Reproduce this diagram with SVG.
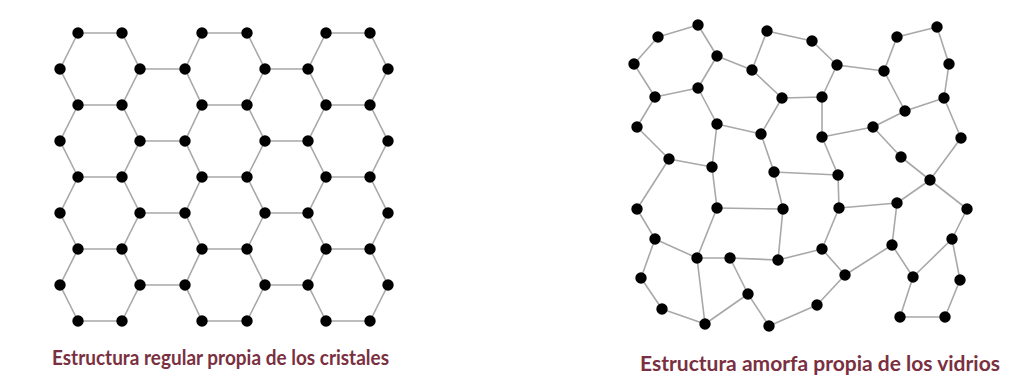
<svg xmlns="http://www.w3.org/2000/svg" width="1027" height="381" viewBox="0 0 1027 381">
<style>
.e{stroke:#a8a8a8;stroke-width:1.6;fill:none;stroke-linecap:round}
.n circle{fill:#0a0a0a}
.lbl{font-family:"Lato","Open Sans","Liberation Sans",sans-serif;font-weight:bold;font-size:21px;fill:#7a3040}
</style>
<defs><circle id="dot" r="5.7"/></defs>
<rect width="1027" height="381" fill="#ffffff"/>
<g id="connectors">
<g id="crystal-edges">
<polyline class="e" points="78,33 60,69 78,105 60,141 78,177 60,213 78,249 60,285 78,321"/>
<polyline class="e" points="122,33 140,69 122,105 140,141 122,177 140,213 122,249 140,285 122,321"/>
<polyline class="e" points="202,33 185,69 202,105 185,141 202,177 185,213 202,249 185,285 202,321"/>
<polyline class="e" points="247,33 265,69 247,105 265,141 247,177 265,213 247,249 265,285 247,321"/>
<polyline class="e" points="326,33 308,69 326,105 308,141 326,177 308,213 326,249 308,285 326,321"/>
<polyline class="e" points="370,33 388,69 370,105 388,141 370,177 388,213 370,249 388,285 370,321"/>
<path class="e" d="M78 33H122M202 33H247M326 33H370M78 105H122M202 105H247M326 105H370M78 177H122M202 177H247M326 177H370M78 249H122M202 249H247M326 249H370M78 321H122M202 321H247M326 321H370M140 69H185M265 69H308M140 141H185M265 141H308M140 213H185M265 213H308M140 285H185M265 285H308"/>
</g>
<g id="glass-edges" class="e">
<line x1="698" y1="25" x2="658" y2="37"/>
<line x1="658" y1="37" x2="634" y2="64"/>
<line x1="698" y1="25" x2="717" y2="56"/>
<line x1="634" y1="64" x2="655" y2="97"/>
<line x1="655" y1="97" x2="698" y2="88"/>
<line x1="698" y1="88" x2="717" y2="56"/>
<line x1="717" y1="56" x2="752" y2="70"/>
<line x1="752" y1="70" x2="767" y2="31"/>
<line x1="752" y1="70" x2="782" y2="98"/>
<line x1="698" y1="88" x2="717" y2="124"/>
<line x1="717" y1="124" x2="761" y2="134"/>
<line x1="761" y1="134" x2="782" y2="98"/>
<line x1="655" y1="97" x2="637" y2="127"/>
<line x1="637" y1="127" x2="669" y2="159"/>
<line x1="669" y1="159" x2="712" y2="167"/>
<line x1="717" y1="124" x2="712" y2="167"/>
<line x1="761" y1="134" x2="774" y2="172"/>
<line x1="767" y1="31" x2="812" y2="41"/>
<line x1="812" y1="41" x2="837" y2="65"/>
<line x1="837" y1="65" x2="884" y2="71"/>
<line x1="884" y1="71" x2="897" y2="37"/>
<line x1="897" y1="37" x2="937" y2="27"/>
<line x1="937" y1="27" x2="949" y2="64"/>
<line x1="949" y1="64" x2="944" y2="98"/>
<line x1="944" y1="98" x2="905" y2="111"/>
<line x1="905" y1="111" x2="884" y2="71"/>
<line x1="905" y1="111" x2="873" y2="127"/>
<line x1="873" y1="127" x2="822" y2="137"/>
<line x1="837" y1="65" x2="822" y2="97"/>
<line x1="822" y1="97" x2="782" y2="98"/>
<line x1="822" y1="97" x2="822" y2="137"/>
<line x1="822" y1="137" x2="838" y2="175"/>
<line x1="774" y1="172" x2="838" y2="175"/>
<line x1="944" y1="98" x2="961" y2="138"/>
<line x1="961" y1="138" x2="930" y2="180"/>
<line x1="873" y1="127" x2="901" y2="157"/>
<line x1="901" y1="157" x2="930" y2="180"/>
<line x1="930" y1="180" x2="897" y2="203"/>
<line x1="930" y1="180" x2="967" y2="209"/>
<line x1="669" y1="159" x2="637" y2="209"/>
<line x1="712" y1="167" x2="717" y2="208"/>
<line x1="717" y1="208" x2="783" y2="209"/>
<line x1="774" y1="172" x2="783" y2="209"/>
<line x1="783" y1="209" x2="778" y2="260"/>
<line x1="637" y1="209" x2="655" y2="239"/>
<line x1="655" y1="239" x2="697" y2="258"/>
<line x1="697" y1="258" x2="717" y2="208"/>
<line x1="697" y1="258" x2="730" y2="258"/>
<line x1="730" y1="258" x2="778" y2="260"/>
<line x1="730" y1="258" x2="748" y2="294"/>
<line x1="748" y1="294" x2="705" y2="324"/>
<line x1="705" y1="324" x2="697" y2="258"/>
<line x1="655" y1="239" x2="641" y2="278"/>
<line x1="641" y1="278" x2="662" y2="309"/>
<line x1="662" y1="309" x2="705" y2="324"/>
<line x1="748" y1="294" x2="769" y2="326"/>
<line x1="838" y1="175" x2="839" y2="208"/>
<line x1="839" y1="208" x2="897" y2="203"/>
<line x1="967" y1="209" x2="952" y2="239"/>
<line x1="839" y1="208" x2="822" y2="249"/>
<line x1="822" y1="249" x2="778" y2="260"/>
<line x1="822" y1="249" x2="845" y2="275"/>
<line x1="845" y1="275" x2="892" y2="245"/>
<line x1="892" y1="245" x2="897" y2="203"/>
<line x1="892" y1="245" x2="913" y2="277"/>
<line x1="913" y1="277" x2="952" y2="239"/>
<line x1="952" y1="239" x2="960" y2="280"/>
<line x1="960" y1="280" x2="945" y2="317"/>
<line x1="945" y1="317" x2="900" y2="317"/>
<line x1="900" y1="317" x2="913" y2="277"/>
<line x1="845" y1="275" x2="817" y2="305"/>
<line x1="817" y1="305" x2="769" y2="326"/>
</g>
</g>
<g id="crystal-nodes" class="n">
<g id="c-0-1"><use href="#dot" x="78" y="33"/></g><g id="c-0-2"><use href="#dot" x="122" y="33"/></g><g id="c-0-3"><use href="#dot" x="202" y="33"/></g><g id="c-0-4"><use href="#dot" x="247" y="33"/></g><g id="c-0-5"><use href="#dot" x="326" y="33"/></g><g id="c-0-6"><use href="#dot" x="370" y="33"/></g>
<g id="c-1-1"><use href="#dot" x="60" y="69"/></g><g id="c-1-2"><use href="#dot" x="140" y="69"/></g><g id="c-1-3"><use href="#dot" x="185" y="69"/></g><g id="c-1-4"><use href="#dot" x="265" y="69"/></g><g id="c-1-5"><use href="#dot" x="308" y="69"/></g><g id="c-1-6"><use href="#dot" x="388" y="69"/></g>
<g id="c-2-1"><use href="#dot" x="78" y="105"/></g><g id="c-2-2"><use href="#dot" x="122" y="105"/></g><g id="c-2-3"><use href="#dot" x="202" y="105"/></g><g id="c-2-4"><use href="#dot" x="247" y="105"/></g><g id="c-2-5"><use href="#dot" x="326" y="105"/></g><g id="c-2-6"><use href="#dot" x="370" y="105"/></g>
<g id="c-3-1"><use href="#dot" x="60" y="141"/></g><g id="c-3-2"><use href="#dot" x="140" y="141"/></g><g id="c-3-3"><use href="#dot" x="185" y="141"/></g><g id="c-3-4"><use href="#dot" x="265" y="141"/></g><g id="c-3-5"><use href="#dot" x="308" y="141"/></g><g id="c-3-6"><use href="#dot" x="388" y="141"/></g>
<g id="c-4-1"><use href="#dot" x="78" y="177"/></g><g id="c-4-2"><use href="#dot" x="122" y="177"/></g><g id="c-4-3"><use href="#dot" x="202" y="177"/></g><g id="c-4-4"><use href="#dot" x="247" y="177"/></g><g id="c-4-5"><use href="#dot" x="326" y="177"/></g><g id="c-4-6"><use href="#dot" x="370" y="177"/></g>
<g id="c-5-1"><use href="#dot" x="60" y="213"/></g><g id="c-5-2"><use href="#dot" x="140" y="213"/></g><g id="c-5-3"><use href="#dot" x="185" y="213"/></g><g id="c-5-4"><use href="#dot" x="265" y="213"/></g><g id="c-5-5"><use href="#dot" x="308" y="213"/></g><g id="c-5-6"><use href="#dot" x="388" y="213"/></g>
<g id="c-6-1"><use href="#dot" x="78" y="249"/></g><g id="c-6-2"><use href="#dot" x="122" y="249"/></g><g id="c-6-3"><use href="#dot" x="202" y="249"/></g><g id="c-6-4"><use href="#dot" x="247" y="249"/></g><g id="c-6-5"><use href="#dot" x="326" y="249"/></g><g id="c-6-6"><use href="#dot" x="370" y="249"/></g>
<g id="c-7-1"><use href="#dot" x="60" y="285"/></g><g id="c-7-2"><use href="#dot" x="140" y="285"/></g><g id="c-7-3"><use href="#dot" x="185" y="285"/></g><g id="c-7-4"><use href="#dot" x="265" y="285"/></g><g id="c-7-5"><use href="#dot" x="308" y="285"/></g><g id="c-7-6"><use href="#dot" x="388" y="285"/></g>
<g id="c-8-1"><use href="#dot" x="78" y="321"/></g><g id="c-8-2"><use href="#dot" x="122" y="321"/></g><g id="c-8-3"><use href="#dot" x="202" y="321"/></g><g id="c-8-4"><use href="#dot" x="247" y="321"/></g><g id="c-8-5"><use href="#dot" x="326" y="321"/></g><g id="c-8-6"><use href="#dot" x="370" y="321"/></g>
</g>
<g id="glass-nodes" class="n">
<g id="g-a"><use href="#dot" x="698" y="25"/></g><g id="g-b"><use href="#dot" x="658" y="37"/></g><g id="g-c"><use href="#dot" x="634" y="64"/></g><g id="g-d"><use href="#dot" x="717" y="56"/></g><g id="g-e"><use href="#dot" x="752" y="70"/></g><g id="g-f"><use href="#dot" x="767" y="31"/></g><g id="g-g"><use href="#dot" x="698" y="88"/></g><g id="g-h"><use href="#dot" x="655" y="97"/></g><g id="g-i"><use href="#dot" x="782" y="98"/></g><g id="g-j"><use href="#dot" x="637" y="127"/></g><g id="g-k"><use href="#dot" x="717" y="124"/></g><g id="g-l"><use href="#dot" x="761" y="134"/></g><g id="g-m"><use href="#dot" x="669" y="159"/></g><g id="g-n"><use href="#dot" x="712" y="167"/></g><g id="g-o"><use href="#dot" x="774" y="172"/></g>
<g id="g-p"><use href="#dot" x="812" y="41"/></g><g id="g-q"><use href="#dot" x="837" y="65"/></g><g id="g-r"><use href="#dot" x="884" y="71"/></g><g id="g-s"><use href="#dot" x="897" y="37"/></g><g id="g-t"><use href="#dot" x="937" y="27"/></g><g id="g-u"><use href="#dot" x="949" y="64"/></g><g id="g-v"><use href="#dot" x="944" y="98"/></g><g id="g-w"><use href="#dot" x="905" y="111"/></g><g id="g-x"><use href="#dot" x="822" y="97"/></g><g id="g-y"><use href="#dot" x="873" y="127"/></g><g id="g-z"><use href="#dot" x="822" y="137"/></g><g id="g-A"><use href="#dot" x="961" y="138"/></g><g id="g-B"><use href="#dot" x="901" y="157"/></g><g id="g-C"><use href="#dot" x="930" y="180"/></g><g id="g-D"><use href="#dot" x="838" y="175"/></g>
<g id="g-E"><use href="#dot" x="637" y="209"/></g><g id="g-F"><use href="#dot" x="717" y="208"/></g><g id="g-G"><use href="#dot" x="783" y="209"/></g><g id="g-H"><use href="#dot" x="655" y="239"/></g><g id="g-I"><use href="#dot" x="697" y="258"/></g><g id="g-J"><use href="#dot" x="730" y="258"/></g><g id="g-K"><use href="#dot" x="778" y="260"/></g><g id="g-L"><use href="#dot" x="641" y="278"/></g><g id="g-M"><use href="#dot" x="662" y="309"/></g><g id="g-N"><use href="#dot" x="705" y="324"/></g><g id="g-O"><use href="#dot" x="748" y="294"/></g><g id="g-P"><use href="#dot" x="769" y="326"/></g>
<g id="g-Q"><use href="#dot" x="839" y="208"/></g><g id="g-R"><use href="#dot" x="897" y="203"/></g><g id="g-S"><use href="#dot" x="967" y="209"/></g><g id="g-T"><use href="#dot" x="822" y="249"/></g><g id="g-U"><use href="#dot" x="892" y="245"/></g><g id="g-V"><use href="#dot" x="952" y="239"/></g><g id="g-W"><use href="#dot" x="845" y="275"/></g><g id="g-X"><use href="#dot" x="913" y="277"/></g><g id="g-Y"><use href="#dot" x="960" y="280"/></g><g id="g-Z"><use href="#dot" x="817" y="305"/></g><g id="g-AA"><use href="#dot" x="900" y="317"/></g><g id="g-AB"><use href="#dot" x="945" y="317"/></g>
</g>
<g id="labels">
<text class="lbl" x="52" y="365" textLength="337" lengthAdjust="spacingAndGlyphs">Estructura regular propia de los cristales</text>
<text class="lbl" x="640" y="371" textLength="360" lengthAdjust="spacingAndGlyphs">Estructura amorfa propia de los vidrios</text>
</g>
</svg>
